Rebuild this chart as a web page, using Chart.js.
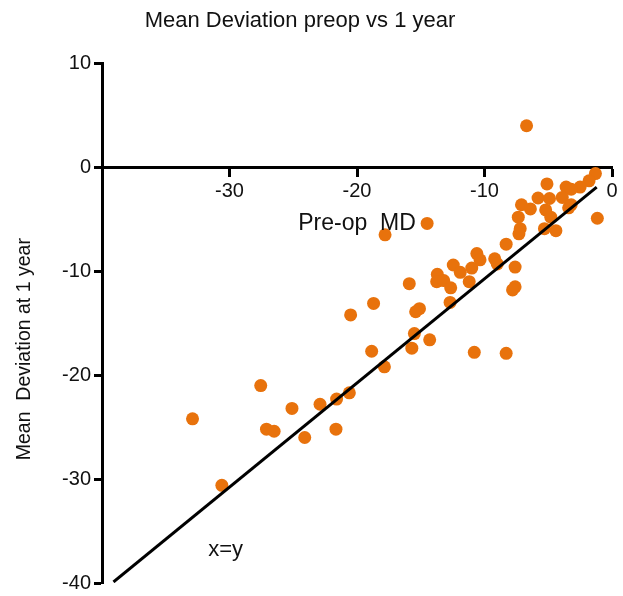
<!DOCTYPE html>
<html><head><meta charset="utf-8">
<script src="https://cdn.jsdelivr.net/npm/chart.js@4/dist/chart.umd.min.js"></script>
<style>html,body{margin:0;padding:0;background:#fff;}#wrap{width:623px;height:596px;position:relative;}</style>
</head><body><div id="wrap"><canvas id="c" width="623" height="596"></canvas></div>
<script>
const chartTitle = 'Mean Deviation preop vs 1 year';
const xTitle = 'Pre-op  MD';
const yTitle = 'Mean  Deviation at 1 year';
const lineLabel = 'x=y';

const preopMD = [-6.7, -1.3, -1.8, -2.5, -5.1, -3.6, -3.2, -5.8, -4.9, -3.9, -3.4, -3.2, -7.1, -6.4, -5.2, -4.8, -7.35, -1.15, -7.2, -7.3, -5.3, -4.4, -8.3, -10.6, -10.35, -9.2, -9.0, -12.45, -11.0, -11.9, -7.6, -13.7, -13.75, -13.2, -12.65, -11.2, -7.6, -7.8, -15.9, -12.7, -15.1, -15.4, -15.5, -14.3, -15.7, -10.8, -8.3, -14.5, -17.8, -18.7, -20.5, -18.85, -17.85, -27.55, -32.9, -25.1, -22.9, -21.6, -20.6, -27.1, -26.5, -24.1, -21.65, -30.6];
const md1Year = [4.0, -0.6, -1.3, -1.9, -1.6, -1.9, -2.1, -2.95, -3.0, -2.9, -3.9, -3.6, -3.6, -4.0, -4.1, -4.8, -4.8, -4.9, -5.9, -6.4, -5.9, -6.1, -7.4, -8.3, -8.9, -8.8, -9.3, -9.4, -9.7, -10.1, -9.6, -10.3, -11.0, -10.9, -11.6, -11.0, -11.5, -11.8, -11.2, -13.0, -13.6, -13.9, -16.0, -16.6, -17.4, -17.8, -17.9, -5.4, -6.5, -13.1, -14.2, -17.7, -19.2, -21.0, -24.2, -23.2, -22.8, -22.3, -21.7, -25.2, -25.4, -26.0, -25.2, -30.6];
const identityX = [-39.1, -1.2];
const identityY = [-39.9, -1.9];
const xTicks = [-40, -30, -20, -10, 0];
const yTicks = [-40, -30, -20, -10, 0, 10];

const FONT = '"Liberation Sans", Arial, Helvetica, sans-serif';

const textPlugin = {
  id: 'texts',
  afterDraw(chart) {
    const {ctx, chartArea, scales} = chart;
    const xs = scales.x, ys = scales.y;
    ctx.save();
    ctx.fillStyle = '#111';
    ctx.textAlign = 'center';
    ctx.textBaseline = 'middle';
    ctx.font = '23px ' + FONT;
    ctx.fillText(xTitle, (chartArea.left + chartArea.right) / 2, ys.getPixelForValue(0) + 56);
    ctx.font = '22px ' + FONT;
    ctx.fillText(lineLabel, xs.getPixelForValue(-30.3), ys.getPixelForValue(-36.8));
    ctx.translate(25, (chartArea.top + chartArea.bottom) / 2 + 26);
    ctx.rotate(-Math.PI / 2);
    ctx.font = '19.5px ' + FONT;
    ctx.fillText(yTitle, 0, 0);
    ctx.restore();
  }
};

new Chart(document.getElementById('c'), {
  type: 'scatter',
  data: {
    datasets: [
      {
        type: 'line',
        data: identityX.map((v, i) => ({x: v, y: identityY[i]})),
        borderColor: '#000',
        borderWidth: 3,
        pointRadius: 0,
        fill: false,
        tension: 0
      },
      {
        data: preopMD.map((v, i) => ({x: v, y: md1Year[i]})),
        backgroundColor: 'rgb(232,114,12)',
        borderColor: 'rgb(232,114,12)',
        borderWidth: 0,
        pointRadius: 6.5,
        pointHoverRadius: 6.5
      }
    ]
  },
  options: {
    responsive: false,
    animation: false,
    events: [],
    layout: {padding: {top: 0, right: 11, bottom: 13, left: -12}},
    plugins: {
      legend: {display: false},
      tooltip: {enabled: false},
      title: {
        display: true,
        text: chartTitle,
        color: '#111',
        font: {family: FONT, size: 22, weight: 'normal'},
        padding: {top: 8, bottom: 29}
      }
    },
    scales: {
      x: {
        type: 'linear',
        position: {y: 0},
        min: -40, max: 0,
        afterBuildTicks: s => { s.ticks = xTicks.map(v => ({value: v})); },
        afterFit: s => { s.paddingLeft = 0; s.paddingRight = 0; s.paddingTop = 0; s.paddingBottom = 0; },
        ticks: {
          color: '#111',
          font: {family: FONT, size: 20},
          padding: 4,
          maxRotation: 0,
          autoSkip: false,
          callback: v => v === -40 ? null : String(v)
        },
        grid: {drawOnChartArea: false, drawTicks: true, tickLength: 8, tickWidth: 3, tickColor: '#000'},
        border: {display: true, color: '#000', width: 3}
      },
      y: {
        type: 'linear',
        position: 'left',
        min: -40, max: 10,
        afterBuildTicks: s => { s.ticks = yTicks.map(v => ({value: v})); },
        afterFit: s => { s.width = 114; s.paddingTop = 0; s.paddingBottom = 0; s.paddingLeft = 0; s.paddingRight = 0; },
        ticks: {
          color: '#111',
          font: {family: FONT, size: 20},
          padding: 3,
          autoSkip: false,
          callback: v => String(v)
        },
        grid: {drawOnChartArea: false, drawTicks: true, tickLength: 8, tickWidth: 3, tickColor: '#000'},
        border: {display: true, color: '#000', width: 3}
      }
    }
  },
  plugins: [textPlugin]
});
</script>
</body></html>
